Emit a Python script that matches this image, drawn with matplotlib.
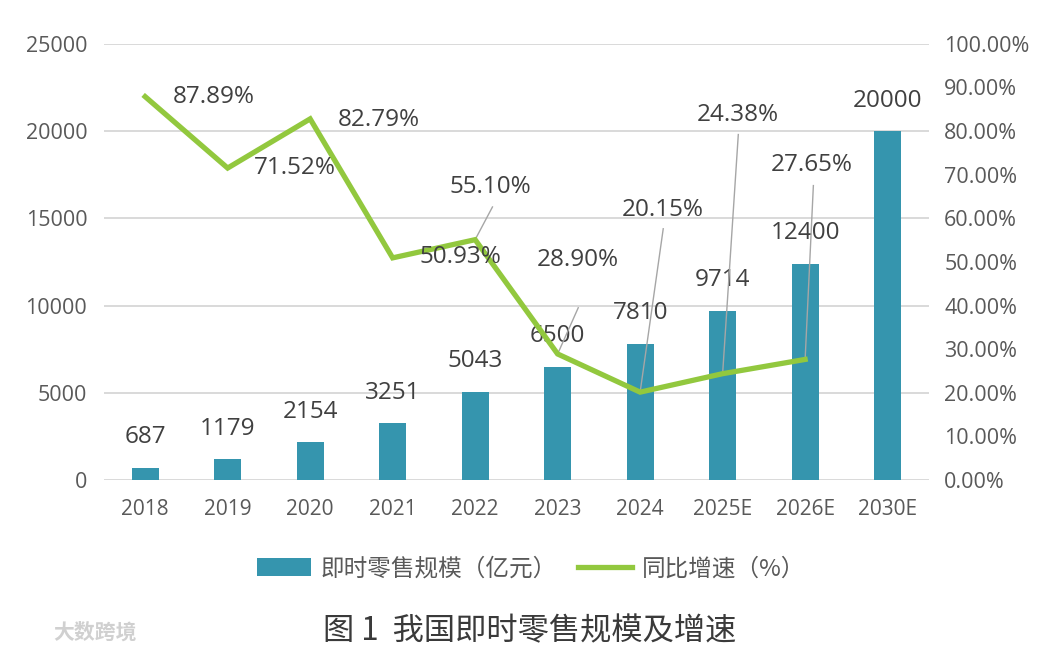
import matplotlib
matplotlib.use("Agg")
import matplotlib.pyplot as plt
from matplotlib.patches import Patch
from matplotlib.lines import Line2D

plt.rcParams['font.family'] = ['Open Sans', 'Noto Sans CJK SC', 'DejaVu Sans']

# data
years = ["2018", "2019", "2020", "2021", "2022", "2023", "2024", "2025E", "2026E", "2030E"]
scale = [687, 1179, 2154, 3251, 5043, 6500, 7810, 9714, 12400, 20000]
growth = [87.89, 71.52, 82.79, 50.93, 55.10, 28.90, 20.15, 24.38, 27.65]
left_ticks = [0, 5000, 10000, 15000, 20000, 25000]
right_ticks = [0, 10, 20, 30, 40, 50, 60, 70, 80, 90, 100]

bar_color = '#3595AE'
line_color = '#92C83E'
text_color = '#404040'
tick_color = '#595959'
cjk = ['Noto Sans CJK SC', 'DejaVu Sans']

fig = plt.figure(figsize=(10.39, 6.54), dpi=100)
ax = fig.add_axes([0.100, 0.266, 0.794, 0.667])
x = list(range(len(years)))

# bars on the left axis
ax.bar(x, scale, width=0.33, color=bar_color, zorder=2)
for xi, v in zip(x, scale):
    ax.annotate(str(v), (xi, v), xytext=(0, 22), textcoords='offset points',
                ha='center', va='center', fontsize=17.5, color=text_color, zorder=3)

ax.set_xlim(-0.5, len(years) - 0.5)
ax.set_ylim(0, 25000)
ax.set_yticks(left_ticks)
ax.set_xticks(x)
ax.set_xticklabels(years)
ax.grid(axis='y', color='#d9d9d9', linewidth=1.4, zorder=0)
ax.set_axisbelow(True)
for s in ax.spines.values():
    s.set_visible(False)
ax.tick_params(axis='y', length=0, pad=12, labelsize=15.5, labelcolor=tick_color)
ax.tick_params(axis='x', length=0, pad=14, labelsize=15, labelcolor=tick_color)

# growth line on the right axis
ax2 = ax.twinx()
ax2.plot(x[:len(growth)], growth, color=line_color, linewidth=3.8,
         solid_joinstyle='miter', zorder=4)
ax2.set_ylim(0, 100)
ax2.set_yticks(right_ticks)
ax2.set_yticklabels([f"{t:.2f}%" for t in right_ticks])
for s in ax2.spines.values():
    s.set_visible(False)
ax2.tick_params(axis='y', length=0, pad=11, labelsize=15.5, labelcolor=tick_color)

# percentage labels: (label x, label y, leader start x, leader start y) or no leader
label_pos = [
    (0.83, 87.8, None, None),
    (1.82, 71.6, None, None),
    (2.83, 82.6, None, None),
    (3.82, 51.1, None, None),
    (4.19, 67.2, 4.21, 62.6),
    (5.24, 50.5, 5.25, 39.5),
    (6.27, 61.9, 6.28, 57.6),
    (7.18, 83.7, 7.19, 79.2),
    (8.08, 72.2, 8.10, 67.5),
]
for i, (g, (lx, ly, sx, sy)) in enumerate(zip(growth, label_pos)):
    if sx is not None:
        ax2.plot([sx, x[i]], [sy, g], color='#a6a6a6', linewidth=1.0, zorder=3)
    ax2.text(lx, ly, f"{g:.2f}%", ha='center', va='center', fontsize=17.5,
             color=text_color, zorder=5)

# legend
handles = [Patch(facecolor=bar_color, edgecolor='none'),
           Line2D([0], [0], color=line_color, linewidth=3.8)]
fig.legend(handles, ["即时零售规模（亿元）", "同比增速（%）"], loc='center',
           bbox_to_anchor=(0.511, 0.13), ncol=2, frameon=False,
           prop={'family': cjk, 'size': 17}, labelcolor=tick_color,
           handlelength=2.3, handleheight=0.8, handletextpad=0.4, columnspacing=0.9)

# caption and watermark
fig.text(0.51, 0.034, "图 1  我国即时零售规模及增速", ha='center', va='center',
         fontsize=22.5, color='#3a3a3a', family=cjk)
fig.text(0.051, 0.034, "大数跨境", ha='left', va='center', fontsize=15,
         color='#d0d0d0', fontweight='bold', family=cjk)

fig.savefig("out.png", dpi=100, facecolor='white')
